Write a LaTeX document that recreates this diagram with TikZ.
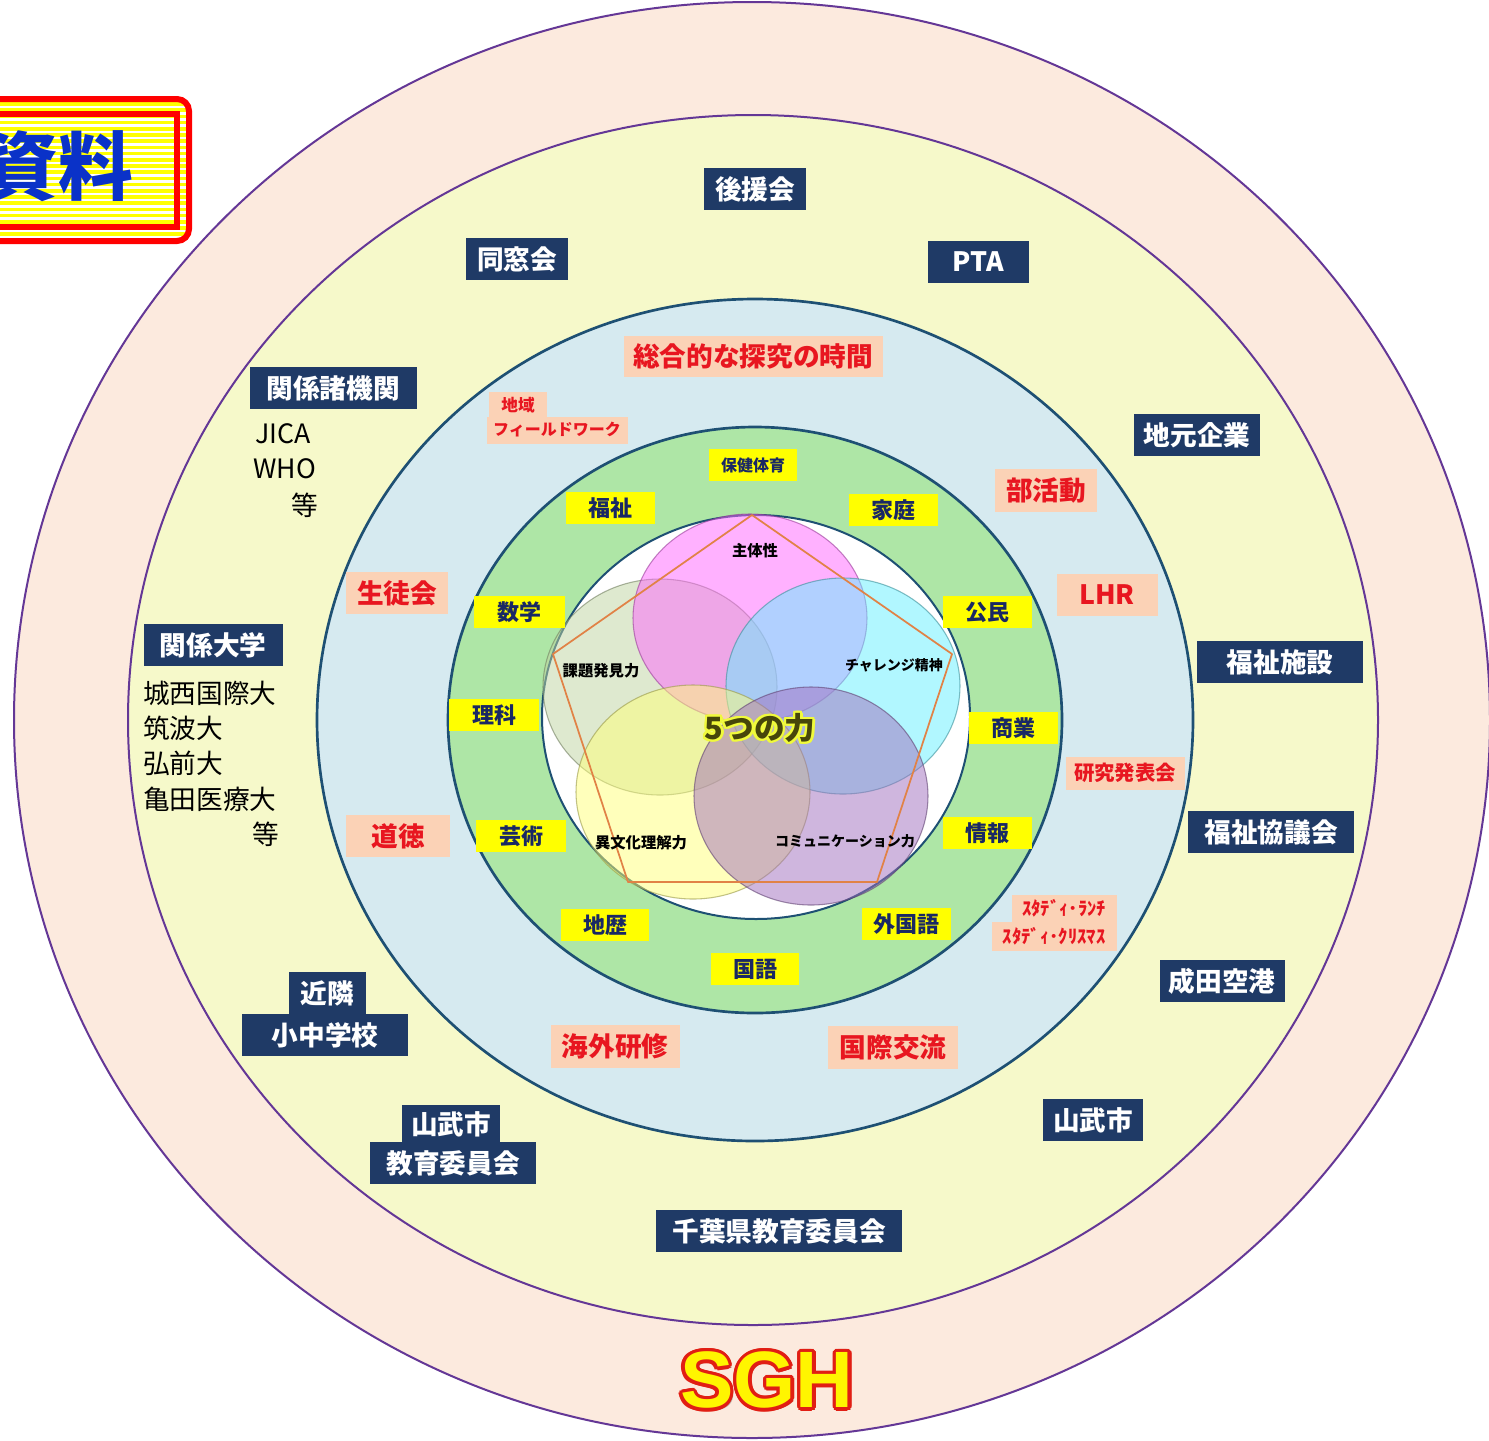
\documentclass[tikz,border=0pt]{standalone}
\usepackage{fontspec}
\setmainfont{Noto Sans CJK JP}
\newfontfamily\sghfont{Liberation Sans}
\definecolor{pinkring}{RGB}{252,234,222}
\definecolor{yellowring}{RGB}{246,249,202}
\definecolor{bluering}{RGB}{214,234,240}
\definecolor{greenring}{RGB}{174,230,166}
\definecolor{ringpurple}{RGB}{100,55,150}
\definecolor{ringteal}{RGB}{30,80,115}
\definecolor{navyc}{RGB}{31,58,102}
\definecolor{salc}{RGB}{251,210,182}
\definecolor{redc}{RGB}{232,22,32}
\definecolor{tagtext}{RGB}{25,40,100}
\definecolor{tagyellow}{RGB}{255,255,0}
\definecolor{vpink}{RGB}{255,100,255}
\definecolor{vcyan}{RGB}{100,240,255}
\definecolor{vgreen}{RGB}{190,212,160}
\definecolor{vyellow}{RGB}{255,255,120}
\definecolor{vpurple}{RGB}{160,110,190}
\definecolor{pentc}{RGB}{225,130,70}
\definecolor{olivec}{RGB}{70,70,10}
\definecolor{glowc}{RGB}{240,250,60}
\definecolor{shiryoblue}{RGB}{10,50,200}
\definecolor{sghred}{RGB}{225,30,20}
\definecolor{sghyellow}{RGB}{255,245,0}
\begin{document}
\begin{tikzpicture}[x=0.75pt,y=-0.75pt,
  w/.style={minimum width=#1*0.75pt},
  hh/.style={minimum height=#1*0.75pt},
  navy/.style={fill=navyc, text=white, inner sep=0pt, minimum height=31.5pt,
    font=\bfseries\fontsize{20}{20}\selectfont},
  sal/.style={fill=salc, text=redc, inner sep=0pt, minimum height=31.5pt,
    font=\bfseries\fontsize{20}{20}\selectfont},
  tagbox/.style={fill=tagyellow, text=tagtext, inner sep=0pt, minimum height=24pt,
    font=\bfseries\fontsize{16.5}{16.5}\selectfont},
  listtxt/.style={inner sep=0pt, text=black, font=\fontsize{20}{20}\selectfont},
  venn/.style={inner sep=0pt, text=black, font=\bfseries\fontsize{11.5}{11.5}\selectfont},
  vennsmall/.style={inner sep=0pt, text=black, font=\bfseries\fontsize{10.5}{10.5}\selectfont},
  vcirc/.style={fill=#1, fill opacity=0.5, draw=#1!60!black, draw opacity=0.6, line width=0.8pt}
]
\useasboundingbox (0,0) rectangle (1489,1440);
\clip (0,0) rectangle (1489,1440);
\fill[white] (0,0) rectangle (1489,1440);

% rings
\filldraw[fill=pinkring, draw=ringpurple, line width=1.5pt] (752,720) ellipse [x radius=553.5pt, y radius=538.5pt];
\filldraw[fill=yellowring, draw=ringpurple, line width=1.5pt] (753,720) ellipse [x radius=468.75pt, y radius=453.75pt];
\filldraw[fill=bluering, draw=ringteal, line width=2pt] (755,720) ellipse [x radius=328.5pt, y radius=315.75pt];
\filldraw[fill=greenring, draw=ringteal, line width=2pt] (755,720) ellipse [x radius=230.25pt, y radius=219.75pt];
\filldraw[fill=white, draw=ringteal, line width=1.5pt] (756,717) ellipse [x radius=160.5pt, y radius=151.5pt];

% venn
\path[vcirc=vgreen] (660,687) ellipse [x radius=87.75pt, y radius=81pt];
\path[vcirc=vpink] (750,618) ellipse [x radius=87.75pt, y radius=78pt];
\path[vcirc=vcyan] (843,686) ellipse [x radius=87.75pt, y radius=81pt];
\path[vcirc=vyellow] (693,792) ellipse [x radius=87.75pt, y radius=80.25pt];
\path[vcirc=vpurple] (811,796) ellipse [x radius=87.75pt, y radius=81.75pt];

% pentagon
\coordinate (p1) at (752,515);
\coordinate (p2) at (952,654);
\coordinate (p3) at (877,882);
\coordinate (p4) at (628,882);
\coordinate (p5) at (553,654);
\draw[pentc, line width=1.3pt, line join=round] (p1) -- (p2) -- (p3) -- (p4) -- (p5) -- cycle;

% venn labels
\node[venn] (shutai) at (755,551) {主体性};
\node[vennsmall] (challenge) at (894,665) {チャレンジ精神};
\node[venn] (kadai) at (601,671) {課題発見力};
\node[venn] (ibunka) at (641,843) {異文化理解力};
\node[vennsmall] (comm) at (845,841) {コミュニケーション力};
\foreach \i in {0,...,15}{
  \node[inner sep=0pt, text=glowc, font=\bfseries\fontsize{23}{23}\selectfont, shift={(\i*22.5:1.8pt)}] (glow\i) at (760,728) {5つの力};
}
\node[inner sep=0pt, text=olivec, font=\bfseries\fontsize{23}{23}\selectfont] (five) at (760,728) {5つの力};

% subject tags (green ring)
\node[tagbox, w=88, font=\bfseries\fontsize{12}{12}\selectfont] (hoken) at (753,465) {保健体育};
\node[tagbox, w=89] (fukushi) at (610,508) {福祉};
\node[tagbox, w=89] (katei) at (893,510) {家庭};
\node[tagbox, w=91] (sugaku) at (519,612) {数学};
\node[tagbox, w=89] (komin) at (987,612) {公民};
\node[tagbox, w=90] (rika) at (494,715) {理科};
\node[tagbox, w=89] (shogyo) at (1013,728) {商業};
\node[tagbox, w=90] (geijutsu) at (521,836) {芸術};
\node[tagbox, w=89] (joho) at (987,833) {情報};
\node[tagbox, w=88] (chireki) at (605,925) {地歴};
\node[tagbox, w=89] (gaikoku) at (906,924) {外国語};
\node[tagbox, w=88] (kokugo) at (755,969) {国語};

% activities (blue ring)
\node[sal, w=259, hh=41] (sogo) at (753,356) {総合的な探究の時間};
\node[sal, w=58, hh=26, font=\bfseries\fontsize{12.5}{12.5}\selectfont] (chiiki) at (518,405) {地域};
\node[sal, w=141, hh=27, font=\bfseries\fontsize{12}{12}\selectfont] (field) at (557,430) {フィールドワーク};
\node[sal, w=102, hh=43] (bukatsu) at (1046,490) {部活動};
\node[sal, w=101] (lhr) at (1107,595) {LHR};
\node[sal, w=102] (seito) at (397,593) {生徒会};
\node[sal, w=104] (dotoku) at (398,836) {道徳};
\node[sal, w=119, hh=33, font=\bfseries\fontsize{15.3}{15.3}\selectfont] (kenkyu) at (1125,773) {研究発表会};
\node[sal, w=105, hh=27, font=\bfseries\fontsize{14}{14}\selectfont] (lunch) at (1064,908) {ｽﾀﾃﾞｨ･ﾗﾝﾁ};
\node[sal, w=125, hh=29, font=\bfseries\fontsize{14}{14}\selectfont] (xmas) at (1054,936) {ｽﾀﾃﾞｨ･ｸﾘｽﾏｽ};
\node[sal, w=129, hh=43] (kaigai) at (615,1046) {海外研修};
\node[sal, w=130, hh=43] (kokusai) at (893,1047) {国際交流};

% partners (yellow ring)
\node[navy, w=102] (koenkai) at (755,189) {後援会};
\node[navy, w=102] (dosokai) at (517,259) {同窓会};
\node[navy, w=101] (pta) at (978,262) {PTA};
\node[navy, w=167] (kankei) at (333,388) {関係諸機関};
\node[navy, w=126] (jimoto) at (1197,435) {地元企業};
\node[navy, w=139] (daigaku) at (213,645) {関係大学};
\node[navy, w=166] (shisetsu) at (1280,662) {福祉施設};
\node[navy, w=166] (kyogikai) at (1271,832) {福祉協議会};
\node[navy, w=77] (kinrin) at (327,993) {近隣};
\node[navy, w=166] (shochu) at (325,1035) {小中学校};
\node[navy, w=125] (narita) at (1222,981) {成田空港};
\node[navy, w=100] (sanmu) at (1093,1120) {山武市};
\node[navy, w=98, hh=38] (sanmu2) at (451,1124) {山武市};
\node[navy, w=166] (kyoiku) at (453,1163) {教育委員会};
\node[navy, w=246] (chiba) at (779,1231) {千葉県教育委員会};

% lists
\node[listtxt, anchor=west] (jica) at (255,434) {JICA};
\node[listtxt, anchor=west] (who) at (253,469) {WHO};
\node[listtxt, anchor=east] (tou1) at (318,505) {等};
\node[listtxt, anchor=west] (josai) at (143,693) {城西国際大};
\node[listtxt, anchor=west] (tsukuba) at (143,728) {筑波大};
\node[listtxt, anchor=west] (hirosaki) at (143,763) {弘前大};
\node[listtxt, anchor=west] (kameda) at (143,799) {亀田医療大};
\node[listtxt, anchor=east] (tou2) at (279,834) {等};

% SGH
\node[inner sep=0pt, text=black, opacity=0.25, font=\sghfont\bfseries\fontsize{60}{60}\selectfont] (sghshadow) at (770,1383) {SGH};
\foreach \i in {0,...,15}{
  \node[inner sep=0pt, text=sghred, font=\sghfont\bfseries\fontsize{60}{60}\selectfont, shift={(\i*22.5:2.6pt)}] (sghout\i) at (767,1380) {SGH};
}
\node[inner sep=0pt, text=sghyellow, font=\sghfont\bfseries\fontsize{60}{60}\selectfont] (sgh) at (767,1380) {SGH};

% 資料 badge
\begin{scope}
  \clip[rounded corners=9pt] (-40,99) rectangle (189,241);
  \foreach \k in {0,...,25}{
    \fill[tagyellow] (-40,{96+\k*6.2}) rectangle (195,{96+\k*6.2+3.6});
  }
\end{scope}
\draw[red, line width=4.5pt, rounded corners=9pt] (-40,99) rectangle (189,241);
\draw[red, line width=4.5pt] (-40,114) rectangle (177,227);
\node[inner sep=0pt, text=shiryoblue, font=\bfseries\fontsize{56}{56}\selectfont] (shiryo) at (58,166) {資料};
\end{tikzpicture}
\end{document}
